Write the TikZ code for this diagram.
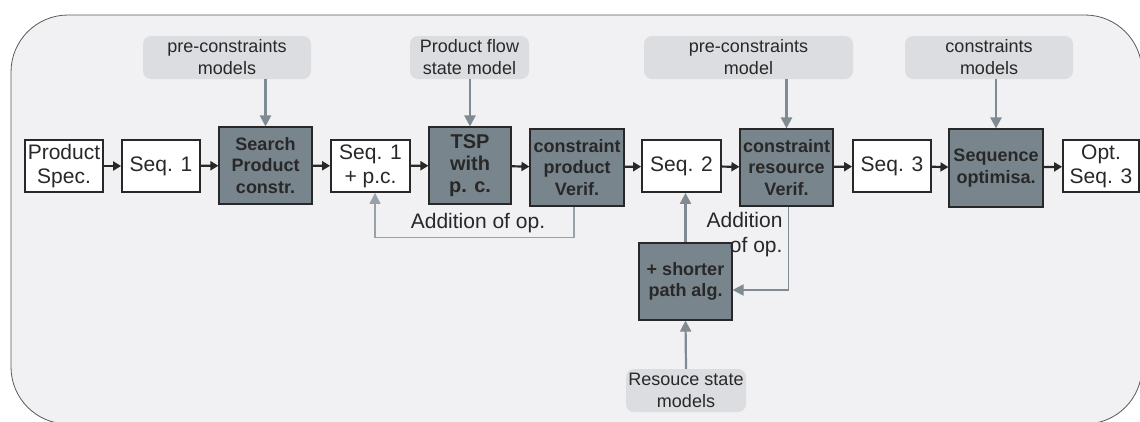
\documentclass[tikz,border=0pt]{standalone}
\usepackage{fontspec}
\setmainfont{Liberation Sans}
\usepackage{tikz}
\usetikzlibrary{calc,arrows.meta,positioning}
\definecolor{bgGray}{RGB}{241,241,243}
\definecolor{modelGray}{RGB}{220,221,224}
\definecolor{procGray}{RGB}{121,133,141}
\definecolor{feedGray}{RGB}{127,138,146}
\definecolor{txtDark}{RGB}{40,40,40}

\begin{document}
\begin{tikzpicture}[x=1pt,y=-1pt,
  seqbox/.style={draw=txtDark, line width=1.8pt, fill=white, text=txtDark, inner sep=0pt,
    minimum height=52pt, align=center, font=\fontsize{21}{24}\selectfont},
  procbox/.style={draw=txtDark, line width=1.1pt, fill=procGray, text=txtDark, inner sep=0pt,
    minimum height=77pt, align=center, font=\fontsize{18}{21.5}\selectfont\bfseries},
  modelbox/.style={fill=modelGray, rounded corners=8pt, text=txtDark, inner sep=0pt,
    minimum height=43pt, align=center, font=\fontsize{18}{22}\selectfont},
  flow/.style={draw=txtDark, line width=2.2pt, -{Triangle[length=8pt,width=9pt]}},
  feed/.style={draw=feedGray, line width=2.2pt, -{Triangle[length=11pt,width=11pt]}},
  feedthin/.style={draw=feedGray!80, line width=1.3pt, -{Triangle[length=11pt,width=11pt]}},
  lbl/.style={text=txtDark, font=\fontsize{21}{25}\selectfont}]
\useasboundingbox (0,0) rectangle (1140,421);
\draw[fill=bgGray, draw=black!65, line width=0.8pt, rounded corners=57pt] (11,15) rectangle (1142,424);

% main row
\node[seqbox, minimum width=78pt] (spec) at (64,166) {Product\\Spec.};
\node[seqbox, minimum width=78pt] (seq1) at (161,166) {Seq. 1};
\node[procbox, minimum width=93pt] (search) at (265.5,165.5) {Search\\Product\\constr.};
\node[seqbox, minimum width=79pt] (seqpc) at (370.5,166) {Seq. 1\\+ p.c.};
\node[procbox, minimum width=82pt, font=\fontsize{20}{22}\selectfont\bfseries] (tsp) at (470,165.5) {TSP\\with\\p. c.};
\node[procbox, minimum width=94pt] (cpv) at (577,167.5) {constraint\\product\\Verif.};
\node[seqbox, minimum width=79pt] (seq2) at (681.5,166) {Seq. 2};
\node[procbox, minimum width=93pt] (crv) at (786.5,167.5) {constraint\\resource\\Verif.};
\node[seqbox, minimum width=78pt] (seq3) at (892,166) {Seq. 3};
\node[procbox, minimum width=94pt, minimum height=78pt] (opt) at (996,168) {Sequence\\optimisa.};
\node[seqbox, minimum width=76pt] (optseq) at (1101,166) {Opt.\\Seq. 3};
\node[procbox, minimum width=93pt] (short) at (685.5,281.5) {+ shorter\\path alg.};

% models
\node[modelbox, minimum width=168pt] (mpre) at (227,57.5) {pre-constraints\\models};
\node[modelbox, minimum width=119pt] (mflow) at (469.5,57.5) {Product flow\\state model};
\node[modelbox, minimum width=209pt] (mres) at (748.5,57.5) {pre-constraints\\model};
\node[modelbox, minimum width=168pt] (mcons) at (989,57.5) {constraints\\models};
\node[modelbox, minimum width=120pt] (mstate) at (686,390.5) {Resouce state\\models};

% flow arrows
\draw[flow] (spec) -- (seq1);
\draw[flow] (seq1) -- (search);
\draw[flow] (search) -- (seqpc);
\draw[flow] (seqpc) -- (tsp);
\draw[flow] (tsp) -- (cpv);
\draw[flow] (cpv) -- (seq2);
\draw[flow] (seq2) -- (crv);
\draw[flow] (crv) -- (seq3);
\draw[flow] (seq3) -- (opt);
\draw[flow] (opt) -- (optseq);

% model inputs
\draw[feed] (search.north |- mpre.south) -- (search.north);
\draw[feed] (tsp.north |- mflow.south) -- (tsp.north);
\draw[feed] (crv.north |- mres.south) -- (crv.north);
\draw[feed] (opt.north |- mcons.south) -- (opt.north);
\draw[feed] (mstate.north) -- (short.south);
\draw[feed] (short.north) -- (short.north |- seq2.south);

% feedback loops
\draw[feedthin] ($(cpv.south)+(-3,0)$) -- ++(0,31) -| ($(seqpc.south)+(4.5,0)$);
\node[lbl] (add1) at (478,223) {Addition of op.};
\draw[feed, line width=1.9pt] ($(crv.south)+(2,0)$) |- ($(short.east)+(0,8.5)$);
\node[lbl, anchor=east, align=right] (add2) at (786,235) {Addition\\of op.};
\end{tikzpicture}
\end{document}
